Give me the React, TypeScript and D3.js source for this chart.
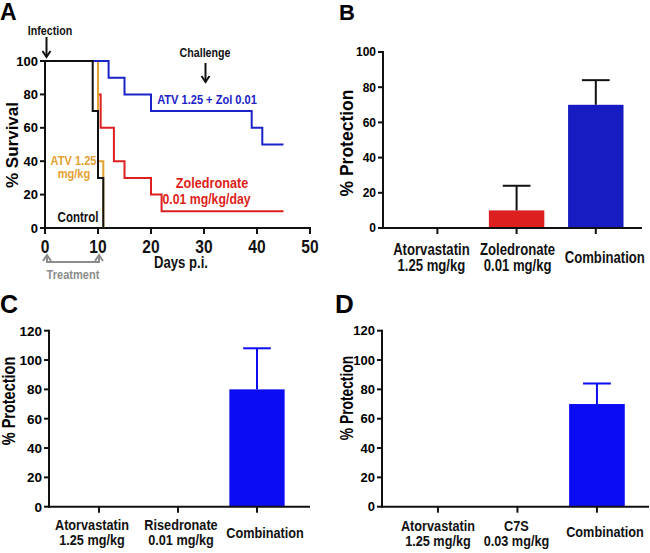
import React from "react";
import * as d3 from "d3";

// ---------- DATA ----------
// Panel A: Kaplan-Meier survival steps [day, % survival]
const controlCurve: [number, number][] = [[0, 100], [9, 70], [10, 30], [11, 0]];
const atvCurve: [number, number][] = [[0, 100], [10, 40], [11, 0]];
const zolCurve: [number, number][] = [[0, 100], [10, 80], [10.5, 60], [13, 40], [15, 30], [20, 20], [22, 10], [45, 10]];
const comboCurve: [number, number][] = [[0, 100], [12, 90], [15, 80], [20, 70], [39, 60], [41, 50], [45, 50]];
const survivalYTicks = [0, 20, 40, 60, 80, 100];
const survivalXTicks = [0, 10, 20, 30, 40, 50];
const infectionDay = 0;
const challengeDay = 30;
const treatmentDays = [0, 10];

// Panel B
const bCategories = [["Atorvastatin", "1.25 mg/kg"], ["Zoledronate", "0.01 mg/kg"], ["Combination"]];
const bValues = [0, 10, 70];
const bErrors = [0, 14, 14];
const bTicks = [0, 20, 40, 60, 80, 100];

// Panel C
const cCategories = [["Atorvastatin", "1.25 mg/kg"], ["Risedronate", "0.01 mg/kg"], ["Combination"]];
const cValues = [0, 0, 80];
const cErrors = [0, 0, 28];
const cTicks = [0, 20, 40, 60, 80, 100, 120];

// Panel D
const dCategories = [["Atorvastatin", "1.25 mg/kg"], ["C7S", "0.03 mg/kg"], ["Combination"]];
const dValues = [0, 0, 70];
const dErrors = [0, 0, 14];
const dTicks = [0, 20, 40, 60, 80, 100, 120];

// ---------- STYLE ----------
const FR = "'Liberation Sans', Arial, sans-serif";
const NARROW = 0.82;
const BLACK = "#111";
const ORANGE = "#E3A12F";
const RED = "#DD1F20";
const BLUE_A = "#1A22C8";
const BLUE_B = "#161BC2";
const BLUE_CD = "#0B0BF4";
const GRAY = "#8C8C8C";

function NText({ x, y, size, fill = BLACK, anchor = "middle", children }:
  { x: number; y: number; size: number; fill?: string; anchor?: string; children: React.ReactNode }) {
  return (
    <text transform={`translate(${x},${y}) scale(${NARROW},1)`} textAnchor={anchor as any}
      fontFamily={FR} fontWeight="bold" fontSize={size} fill={fill}>{children}</text>
  );
}

function VArrow({ x, y1, y2, color, w = 2 }: { x: number; y1: number; y2: number; color: string; w?: number }) {
  const dir = y2 > y1 ? 1 : -1;
  return (
    <g stroke={color} strokeWidth={w} fill="none">
      <line x1={x} y1={y1} x2={x} y2={y2} />
      <polyline points={`${x - 4},${y2 - dir * 6} ${x},${y2} ${x + 4},${y2 - dir * 6}`} strokeLinejoin="miter" />
    </g>
  );
}

function PanelA() {
  const x = d3.scaleLinear().domain([0, 50]).range([45, 310]);
  const y = d3.scaleLinear().domain([0, 100]).range([228, 61]);
  const line = d3.line<[number, number]>().x(d => x(d[0])).y(d => y(d[1])).curve(d3.curveStepAfter);
  const series = [
    { d: zolCurve, c: RED },
    { d: atvCurve, c: ORANGE },
    { d: comboCurve, c: BLUE_A },
    { d: controlCurve, c: BLACK },
  ];
  return (
    <g>
      <text x={0} y={20} fontFamily={FR} fontWeight="bold" fontSize={23}>A</text>
      {/* axes */}
      <g stroke={BLACK} strokeWidth={2} fill="none">
        <line x1={x(0)} y1={y(100) - 1} x2={x(0)} y2={y(0) + 1} />
        <line x1={x(0)} y1={y(0)} x2={x(50) + 1} y2={y(0)} />
        {survivalYTicks.map(t => <line key={"yt" + t} x1={x(0) - 5} x2={x(0)} y1={y(t)} y2={y(t)} />)}
        {survivalXTicks.map(t => <line key={"xt" + t} x1={x(t)} x2={x(t)} y1={y(0)} y2={y(0) + 6} />)}
      </g>
      {survivalYTicks.map(t => (
        <text key={"yl" + t} x={x(0) - 7} y={y(t)} dy="0.36em" textAnchor="end" fontFamily={FR} fontWeight="bold" fontSize={13}>{t}</text>
      ))}
      {survivalXTicks.map(t => (
        <NText key={"xl" + t} x={x(t)} y={253} size={19}>{t}</NText>
      ))}
      <NText x={181} y={268} size={16}>Days p.i.</NText>
      <text transform={`translate(18,145) rotate(-90)`} textAnchor="middle" fontFamily={FR} fontWeight="bold" fontSize={17}>% Survival</text>
      {/* curves */}
      {series.map((s, i) => (
        <path key={i} d={line(s.d) || ""} fill="none" stroke={s.c} strokeWidth={2} />
      ))}
      {/* annotations */}
      <NText x={50} y={35} size={13}>Infection</NText>
      <VArrow x={x(infectionDay) + 1.5} y1={37} y2={57} color={BLACK} />
      <NText x={205} y={57} size={13}>Challenge</NText>
      <VArrow x={x(challengeDay) + 1.5} y1={63} y2={82} color={BLACK} />
      <NText x={207} y={104} size={13.5} fill={BLUE_A}>ATV 1.25 + Zol 0.01</NText>
      <NText x={73.5} y={165} size={13.5} fill={ORANGE}>ATV 1.25</NText>
      <NText x={74} y={178} size={13.5} fill={ORANGE}>mg/kg</NText>
      <NText x={212} y={188} size={15.5} fill={RED}>Zoledronate</NText>
      <NText x={206.5} y={203.5} size={15} fill={RED}>0.01 mg/kg/day</NText>
      <NText x={78} y={222} size={14}>Control</NText>
      {/* treatment bracket */}
      <g stroke={GRAY} strokeWidth={2} fill="none">
        <polyline points={`${x(treatmentDays[0]) + 2},257 ${x(treatmentDays[0]) + 2},262 ${x(treatmentDays[1]) + 1},262 ${x(treatmentDays[1]) + 1},257`} />
      </g>
      <VArrow x={x(treatmentDays[0]) + 2} y1={262} y2={255} color={GRAY} />
      <VArrow x={x(treatmentDays[1]) + 1} y1={262} y2={255} color={GRAY} />
      <NText x={73} y={279} size={13.5} fill={GRAY}>Treatment</NText>
    </g>
  );
}

type BarProps = {
  letter: string; letterX: number; letterY: number; letterSize: number;
  axisX: number; xEnd: number; yTop: number; yBottom: number; yMax: number; ticks: number[];
  band: [number, number]; cats: string[][]; values: number[]; errors: number[];
  colors: string[]; errColor: string; labelDx: number[]; lineY: [number, number, number]; catSize: number;
  tickSize: number; ylX: number; ylY: number; ylSize: number; ylScale: number;
};

function BarPanel(p: BarProps) {
  const y = d3.scaleLinear().domain([0, p.yMax]).range([p.yBottom, p.yTop]);
  const x = d3.scaleBand<number>().domain(p.cats.map((_, i) => i)).range(p.band).paddingInner(0.3).paddingOuter(0.15);
  const bw = x.bandwidth();
  return (
    <g>
      <text x={p.letterX} y={p.letterY} fontFamily={FR} fontWeight="bold" fontSize={p.letterSize}>{p.letter}</text>
      {p.values.map((v, i) => v > 0 ? (
        <rect key={"b" + i} x={x(i)!} y={y(v)} width={bw} height={y(0) - y(v)} fill={p.colors[i]} />
      ) : null)}
      {p.values.map((v, i) => p.errors[i] > 0 ? (
        <g key={"e" + i} stroke={p.errColor} strokeWidth={2}>
          <line x1={x(i)! + bw / 2} x2={x(i)! + bw / 2} y1={y(v)} y2={y(v + p.errors[i])} />
          <line x1={x(i)! + bw / 4} x2={x(i)! + (3 * bw) / 4} y1={y(v + p.errors[i])} y2={y(v + p.errors[i])} />
        </g>
      ) : null)}
      <g stroke={BLACK} strokeWidth={2} fill="none">
        <line x1={p.axisX} x2={p.axisX} y1={p.yTop - 1} y2={p.yBottom + 1} />
        <line x1={p.axisX} x2={p.xEnd} y1={p.yBottom} y2={p.yBottom} />
        {p.ticks.map(t => <line key={"t" + t} x1={p.axisX - 5} x2={p.axisX} y1={y(t)} y2={y(t)} />)}
        {p.cats.map((_, i) => <line key={"xt" + i} x1={x(i)! + bw / 2} x2={x(i)! + bw / 2} y1={p.yBottom} y2={p.yBottom + 6} />)}
      </g>
      {p.ticks.map(t => (
        <text key={"tl" + t} x={p.axisX - 7} y={y(t)} dy="0.36em" textAnchor="end" fontFamily={FR} fontWeight="bold" fontSize={p.tickSize}>{t}</text>
      ))}
      {p.cats.map((c, i) => {
        const cx = x(i)! + bw / 2 + p.labelDx[i];
        if (c.length === 1) {
          return <NText key={"c" + i} x={cx} y={p.yBottom + p.lineY[2]} size={p.catSize}>{c[0]}</NText>;
        }
        return (
          <g key={"c" + i}>
            <NText x={cx} y={p.yBottom + p.lineY[0]} size={p.catSize}>{c[0]}</NText>
            <NText x={cx} y={p.yBottom + p.lineY[1]} size={p.catSize}>{c[1]}</NText>
          </g>
        );
      })}
      <text transform={`translate(${p.ylX},${p.ylY}) rotate(-90) scale(1,${p.ylScale})`} textAnchor="middle" fontFamily={FR} fontWeight="bold" fontSize={p.ylSize}>% Protection</text>
    </g>
  );
}

export default function App() {
  return (
    <div style={{ position: "absolute", left: 0, top: 0 }}>
      <svg width={650} height={553} viewBox="0 0 650 553" style={{ display: "block", background: "#fff" }}>
        <rect width={650} height={553} fill="#fff" />
        <PanelA />
        <BarPanel letter="B" letterX={339} letterY={20} letterSize={22}
          axisX={383} xEnd={642} yTop={52} yBottom={228} yMax={100} ticks={bTicks}
          band={[397.8, 635.4]} cats={bCategories} values={bValues} errors={bErrors}
          colors={["#000", RED, BLUE_B]} errColor={BLACK} labelDx={[-6, 1, 9]} lineY={[27, 43, 35]} catSize={16}
          tickSize={12} ylX={353} ylY={143} ylSize={17.5} ylScale={1} />
        <BarPanel letter="C" letterX={0} letterY={313} letterSize={25}
          axisX={49} xEnd={310} yTop={330.7} yBottom={506.7} yMax={120} ticks={cTicks}
          band={[59.5, 296.5]} cats={cCategories} values={cValues} errors={cErrors}
          colors={["#000", BLUE_CD, BLUE_CD]} errColor={BLUE_CD} labelDx={[-7, 3, 8]} lineY={[23.5, 38, 31]} catSize={15.5}
          tickSize={13.5} ylX={15} ylY={401} ylSize={14.5} ylScale={1.3} />
        <BarPanel letter="D" letterX={335} letterY={313} letterSize={26}
          axisX={382} xEnd={649} yTop={330.7} yBottom={506.7} yMax={120} ticks={dTicks}
          band={[398.2, 636.7]} cats={dCategories} values={dValues} errors={dErrors}
          colors={["#000", BLUE_CD, BLUE_CD]} errColor={BLUE_CD} labelDx={[0, -1, 8]} lineY={[24.5, 39, 30]} catSize={15.5}
          tickSize={13} ylX={353} ylY={398} ylSize={13.8} ylScale={1.35} />
      </svg>
    </div>
  );
}
